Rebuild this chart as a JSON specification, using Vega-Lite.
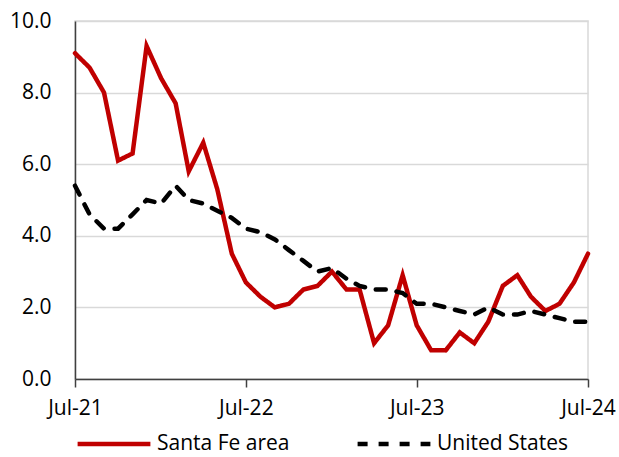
{
  "$schema": "https://vega.github.io/schema/vega-lite/v6.json",
  "autosize": "none",
  "width": 513,
  "height": 358,
  "padding": {"left": 75, "top": 21, "right": 31, "bottom": 78},
  "background": "#ffffff",
  "config": {
    "font": "Open Sans",
    "view": {"stroke": "#D9D9D9", "strokeWidth": 1.5},
    "axis": {"labelFont": "Open Sans", "labelFontSize": 21, "labelColor": "#000000"}
  },
  "data": {
    "values": [
      {"date": "2021-07-01", "series": "Santa Fe area", "value": 9.1},
      {"date": "2021-08-01", "series": "Santa Fe area", "value": 8.7},
      {"date": "2021-09-01", "series": "Santa Fe area", "value": 8.0},
      {"date": "2021-10-01", "series": "Santa Fe area", "value": 6.1},
      {"date": "2021-11-01", "series": "Santa Fe area", "value": 6.3},
      {"date": "2021-12-01", "series": "Santa Fe area", "value": 9.3},
      {"date": "2022-01-01", "series": "Santa Fe area", "value": 8.4},
      {"date": "2022-02-01", "series": "Santa Fe area", "value": 7.7},
      {"date": "2022-03-01", "series": "Santa Fe area", "value": 5.8},
      {"date": "2022-04-01", "series": "Santa Fe area", "value": 6.6},
      {"date": "2022-05-01", "series": "Santa Fe area", "value": 5.3},
      {"date": "2022-06-01", "series": "Santa Fe area", "value": 3.5},
      {"date": "2022-07-01", "series": "Santa Fe area", "value": 2.7},
      {"date": "2022-08-01", "series": "Santa Fe area", "value": 2.3},
      {"date": "2022-09-01", "series": "Santa Fe area", "value": 2.0},
      {"date": "2022-10-01", "series": "Santa Fe area", "value": 2.1},
      {"date": "2022-11-01", "series": "Santa Fe area", "value": 2.5},
      {"date": "2022-12-01", "series": "Santa Fe area", "value": 2.6},
      {"date": "2023-01-01", "series": "Santa Fe area", "value": 3.0},
      {"date": "2023-02-01", "series": "Santa Fe area", "value": 2.5},
      {"date": "2023-03-01", "series": "Santa Fe area", "value": 2.5},
      {"date": "2023-04-01", "series": "Santa Fe area", "value": 1.0},
      {"date": "2023-05-01", "series": "Santa Fe area", "value": 1.5},
      {"date": "2023-06-01", "series": "Santa Fe area", "value": 2.9},
      {"date": "2023-07-01", "series": "Santa Fe area", "value": 1.5},
      {"date": "2023-08-01", "series": "Santa Fe area", "value": 0.8},
      {"date": "2023-09-01", "series": "Santa Fe area", "value": 0.8},
      {"date": "2023-10-01", "series": "Santa Fe area", "value": 1.3},
      {"date": "2023-11-01", "series": "Santa Fe area", "value": 1.0},
      {"date": "2023-12-01", "series": "Santa Fe area", "value": 1.6},
      {"date": "2024-01-01", "series": "Santa Fe area", "value": 2.6},
      {"date": "2024-02-01", "series": "Santa Fe area", "value": 2.9},
      {"date": "2024-03-01", "series": "Santa Fe area", "value": 2.3},
      {"date": "2024-04-01", "series": "Santa Fe area", "value": 1.9},
      {"date": "2024-05-01", "series": "Santa Fe area", "value": 2.1},
      {"date": "2024-06-01", "series": "Santa Fe area", "value": 2.7},
      {"date": "2024-07-01", "series": "Santa Fe area", "value": 3.5},
      {"date": "2021-07-01", "series": "United States", "value": 5.4},
      {"date": "2021-08-01", "series": "United States", "value": 4.6},
      {"date": "2021-09-01", "series": "United States", "value": 4.2},
      {"date": "2021-10-01", "series": "United States", "value": 4.2},
      {"date": "2021-11-01", "series": "United States", "value": 4.6},
      {"date": "2021-12-01", "series": "United States", "value": 5.0},
      {"date": "2022-01-01", "series": "United States", "value": 4.9},
      {"date": "2022-02-01", "series": "United States", "value": 5.4},
      {"date": "2022-03-01", "series": "United States", "value": 5.0},
      {"date": "2022-04-01", "series": "United States", "value": 4.9},
      {"date": "2022-05-01", "series": "United States", "value": 4.7},
      {"date": "2022-06-01", "series": "United States", "value": 4.5},
      {"date": "2022-07-01", "series": "United States", "value": 4.2},
      {"date": "2022-08-01", "series": "United States", "value": 4.1},
      {"date": "2022-09-01", "series": "United States", "value": 3.9},
      {"date": "2022-10-01", "series": "United States", "value": 3.6},
      {"date": "2022-11-01", "series": "United States", "value": 3.3},
      {"date": "2022-12-01", "series": "United States", "value": 3.0},
      {"date": "2023-01-01", "series": "United States", "value": 3.1},
      {"date": "2023-02-01", "series": "United States", "value": 2.8},
      {"date": "2023-03-01", "series": "United States", "value": 2.6},
      {"date": "2023-04-01", "series": "United States", "value": 2.5},
      {"date": "2023-05-01", "series": "United States", "value": 2.5},
      {"date": "2023-06-01", "series": "United States", "value": 2.4},
      {"date": "2023-07-01", "series": "United States", "value": 2.1},
      {"date": "2023-08-01", "series": "United States", "value": 2.1},
      {"date": "2023-09-01", "series": "United States", "value": 2.0},
      {"date": "2023-10-01", "series": "United States", "value": 1.9},
      {"date": "2023-11-01", "series": "United States", "value": 1.8},
      {"date": "2023-12-01", "series": "United States", "value": 2.0},
      {"date": "2024-01-01", "series": "United States", "value": 1.8},
      {"date": "2024-02-01", "series": "United States", "value": 1.8},
      {"date": "2024-03-01", "series": "United States", "value": 1.9},
      {"date": "2024-04-01", "series": "United States", "value": 1.8},
      {"date": "2024-05-01", "series": "United States", "value": 1.7},
      {"date": "2024-06-01", "series": "United States", "value": 1.6},
      {"date": "2024-07-01", "series": "United States", "value": 1.6}
    ]
  },
  "mark": {"type": "line", "strokeWidth": 4.5, "strokeCap": "round", "strokeJoin": "miter"},
  "encoding": {
    "x": {
      "field": "date",
      "type": "temporal",
      "scale": {
        "type": "utc",
        "domain": [
          {"year": 2021, "month": 7, "date": 1, "utc": true},
          {"year": 2024, "month": 7, "date": 1, "utc": true}
        ]
      },
      "axis": {
        "title": null,
        "format": "%b-%y",
        "values": [
          {"year": 2021, "month": 7, "date": 1, "utc": true},
          {"year": 2022, "month": 7, "date": 1, "utc": true},
          {"year": 2023, "month": 7, "date": 1, "utc": true},
          {"year": 2024, "month": 7, "date": 1, "utc": true}
        ],
        "grid": false,
        "domainColor": "#404040",
        "domainWidth": 1.5,
        "tickColor": "#404040",
        "tickWidth": 1.5,
        "tickSize": 8,
        "labelPadding": 10,
        "labelFlush": false
      }
    },
    "y": {
      "field": "value",
      "type": "quantitative",
      "scale": {"domain": [0, 10], "nice": false},
      "axis": {
        "title": null,
        "values": [0, 2, 4, 6, 8, 10],
        "format": ".1f",
        "ticks": false,
        "labelPadding": 24,
        "grid": true,
        "gridColor": "#D9D9D9",
        "gridWidth": 1.5,
        "domainColor": "#404040",
        "domainWidth": 1.5
      }
    },
    "color": {
      "field": "series",
      "type": "nominal",
      "scale": {"domain": ["Santa Fe area", "United States"], "range": ["#C00000", "#000000"]},
      "legend": {
        "title": null,
        "orient": "none",
        "direction": "horizontal",
        "legendX": 0,
        "legendY": 384,
        "symbolType": "stroke",
        "symbolSize": 5300,
        "symbolStrokeWidth": 4.5,
        "labelFont": "Open Sans",
        "labelFontSize": 21,
        "labelColor": "#000000",
        "labelOffset": 4,
        "columnPadding": 58
      }
    },
    "strokeDash": {
      "field": "series",
      "type": "nominal",
      "scale": {"domain": ["Santa Fe area", "United States"], "range": [[1, 0], [10, 11]]},
      "legend": null
    }
  }
}
